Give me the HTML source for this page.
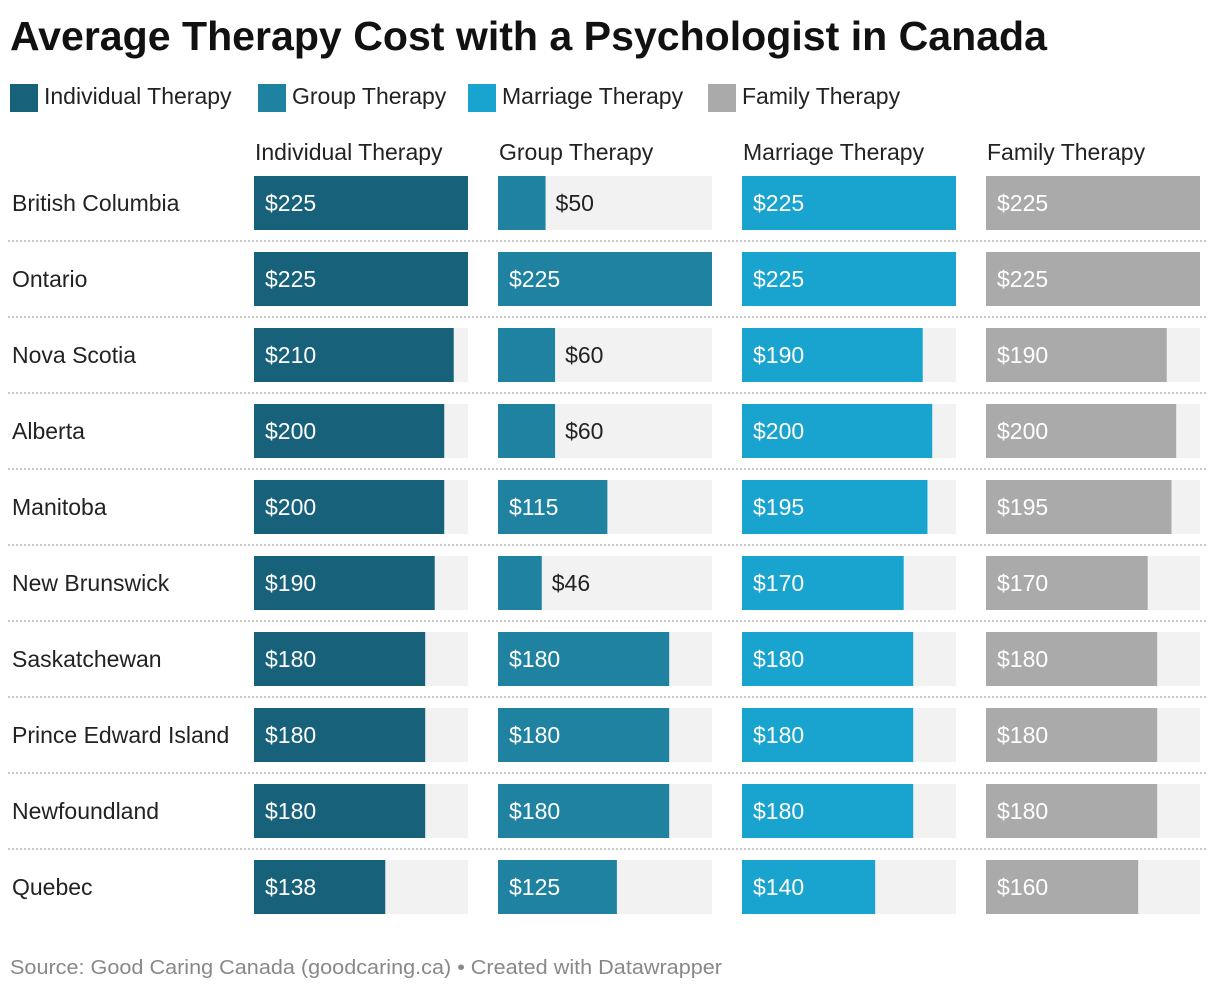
<!DOCTYPE html>
<html><head><meta charset="utf-8"><style>
body{margin:0;background:#fff;font-family:"Liberation Sans",sans-serif;}
svg text{font-family:"Liberation Sans",sans-serif;}
</style></head><body>
<svg id="chart" width="1220" height="992" xmlns="http://www.w3.org/2000/svg">
<rect width="1220" height="992" fill="#fff"/>
<text x="10" y="50" font-size="41" font-weight="bold" fill="#111" textLength="1037" lengthAdjust="spacingAndGlyphs">Average Therapy Cost with a Psychologist in Canada</text>
<g id="legend"></g>
<g id="heads"></g>
<g id="rows"></g>
<text x="10" y="974" font-size="20" fill="#888" textLength="712" lengthAdjust="spacingAndGlyphs">Source: Good Caring Canada (goodcaring.ca) • Created with Datawrapper</text>
</svg>
<script>
const provinces=["British Columbia","Ontario","Nova Scotia","Alberta","Manitoba","New Brunswick","Saskatchewan","Prince Edward Island","Newfoundland","Quebec"];
const seriesNames=["Individual Therapy","Group Therapy","Marriage Therapy","Family Therapy"];
const individual=[225,225,210,200,200,190,180,180,180,138];
const group=[50,225,60,60,115,46,180,180,180,125];
const marriage=[225,225,190,200,195,170,180,180,180,140];
const family=[225,225,190,200,195,170,180,180,180,160];
const colors=["#17617b","#1f82a1","#19a3cf","#aaaaaa"];
const NS="http://www.w3.org/2000/svg";
function mk(tag,attrs,parent,text){const e=document.createElementNS(NS,tag);for(const k in attrs)e.setAttribute(k,attrs[k]);if(text!==undefined)e.textContent=text;parent.appendChild(e);return e;}
const series=[individual,group,marriage,family];
const maxV=225, colX=[254,498,742,986], colW=214, rowY0=176, pitch=76, barH=54;
const x=(v)=>v/maxV*colW;
const legend=document.getElementById('legend');
const legX=[10,258,468,708];
seriesNames.forEach((n,i)=>{
  const r=mk('rect',{x:legX[i],y:84,width:28,height:28,fill:colors[i]},legend);
  
  
  const t=mk('text',{x:legX[i]+34,y:104,'font-size':23,fill:'#222'},legend,n);
  
  
});
const heads=document.getElementById('heads');
seriesNames.forEach((n,i)=>{
  const t=mk('text',{x:colX[i]+1,y:160,'font-size':23,fill:'#222'},heads,n);
  
  
});
const rows=document.getElementById('rows');
provinces.forEach((p,r)=>{
  const y=rowY0+r*pitch;
  const lab=mk('text',{x:12,y:y+barH/2+8,'font-size':23,fill:'#222'},rows,p);
  
  
  series.forEach((s,c)=>{
    const v=s[r];
    const bg=mk('rect',{x:colX[c],y:y,width:colW,height:barH,fill:'#f2f2f2'},rows);
    
    
    const w=x(v);
    const b=mk('rect',{x:colX[c],y:y,width:w,height:barH,fill:colors[c]},rows);
    
    
    const inside=w>=80;
    const t=mk('text',{x:inside?colX[c]+11:colX[c]+w+10,y:y+barH/2+8,'font-size':23,fill:inside?'#fff':'#222'},rows,'$'+v);
    
    
  });
  if(r<provinces.length-1){
    const l=mk('line',{x1:8,x2:1208,y1:y+barH+11,y2:y+barH+11,stroke:'#c8c8c8','stroke-width':2,'stroke-dasharray':'2,2'},rows);
    
    
  }
});
</script>
</body></html>
